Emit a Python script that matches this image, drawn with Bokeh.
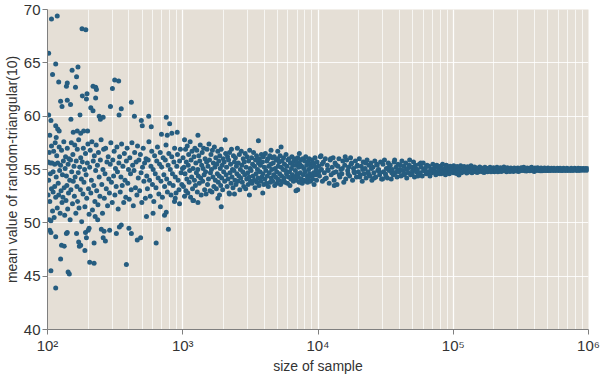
from bokeh.plotting import figure
from bokeh.models import Range1d, FixedTicker, CustomJSTickFormatter, ColumnDataSource
from bokeh.embed import file_html
from bokeh.resources import INLINE

# (sample size, mean value), decade by decade
decade_2_outliers = [
    (107, 69.1), (118, 69.4), (180, 68.2), (192, 68.1), (102, 65.9), (115, 64.9), (109, 63.9), (121, 63.2),
    (152, 64.3), (168, 64.6), (164, 63.7), (140, 63.1), (138, 62.8), (161, 62.7), (217, 62.8), (227, 62.7),
    (230, 62.5), (196, 62.1), (181, 61.9), (194, 61.6), (227, 61.7), (314, 63.4), (336, 63.3), (302, 62.6),
    (417, 61.3), (125, 61.4), (128, 60.9), (140, 61.5), (148, 61.1), (292, 60.9), (351, 60.7), (338, 60.1),
    (209, 60.8), (217, 60.5), (241, 60.0), (258, 59.9), (246, 59.7), (149, 59.7), (174, 60.1), (102, 60.1),
    (106, 59.6), (115, 59.1), (119, 58.8), (104, 58.2), (116, 58.0), (122, 58.6), (155, 58.5), (166, 58.6),
    (185, 58.6), (198, 58.6), (176, 58.4), (439, 60.0), (494, 59.6), (502, 59.1), (560, 60.0), (755, 59.9),
    (800, 59.3), (585, 59.0), (910, 58.5), (830, 58.4), (696, 58.3), (768, 58.2),
    (104, 49.3), (106, 49.1), (115, 48.7), (127, 47.9), (133, 47.8), (125, 46.6), (106, 45.5), (142, 45.4),
    (145, 45.2), (115, 43.9), (138, 49.0), (140, 49.1), (164, 49.0), (170, 48.2), (172, 47.8), (176, 47.9),
    (189, 47.4), (191, 49.1), (200, 49.3), (194, 48.6), (205, 46.3), (221, 46.2), (221, 48.1), (203, 49.5),
    (250, 49.4), (262, 49.2), (258, 48.6), (268, 48.3), (383, 46.1), (400, 49.5), (417, 49.0), (461, 48.4),
    (488, 48.6), (539, 50.6), (636, 48.1), (783, 49.4), (323, 49.0), (340, 49.6), (351, 49.8), (288, 49.3),
    (235, 50.3), (225, 50.6), (733, 50.7), (755, 51.0), (683, 51.5), (603, 50.9), (947, 51.8), (869, 52.0),
    (880, 52.3),
]

decade_2_body = [
    (101, 55.7), (101, 52.6), (102, 54.0), (103, 50.3), (103, 56.6), (104, 52.0), (105, 54.6), (105, 55.6),
    (106, 50.2), (107, 57.2), (107, 53.2), (108, 55.6), (109, 51.1), (110, 54.8), (110, 52.9), (111, 56.7),
    (112, 50.5), (113, 55.5), (113, 53.4), (114, 57.5), (115, 52.4), (116, 54.3), (117, 56.3), (118, 51.4),
    (119, 55.6), (120, 53.7), (121, 52.6), (122, 57.1), (123, 54.9), (124, 50.9), (125, 55.4), (126, 53.0),
    (127, 56.8), (128, 51.9), (129, 54.5), (130, 52.4), (131, 55.8), (132, 57.6), (133, 53.3), (134, 50.7),
    (135, 55.1), (136, 56.2), (137, 52.1), (138, 54.4), (139, 53.5), (140, 57.0), (141, 51.3), (142, 55.5),
    (143, 52.8), (144, 56.0), (146, 54.0), (147, 50.3), (148, 55.9), (149, 53.1), (150, 57.5), (151, 54.8),
    (153, 51.8), (154, 56.4), (155, 53.9), (157, 55.3), (158, 52.5), (159, 57.3), (160, 54.3), (162, 50.9),
    (163, 55.8), (165, 53.4), (166, 56.9), (167, 52.0), (169, 54.7), (170, 57.8), (171, 51.4), (173, 55.2),
    (175, 53.1), (176, 56.1), (178, 54.1), (179, 50.1), (181, 55.7), (183, 52.7), (184, 57.0), (186, 53.8),
    (188, 55.0), (189, 51.5), (191, 56.5), (193, 54.5), (195, 52.3), (197, 55.6), (199, 57.4), (201, 53.2),
    (203, 50.8), (205, 55.2), (207, 56.8), (209, 52.8), (211, 54.0), (213, 57.6), (215, 51.2), (218, 55.8),
    (220, 53.5), (222, 56.3), (224, 52.0), (227, 54.9), (229, 57.3), (231, 53.0), (234, 55.4), (236, 51.7),
    (238, 56.6), (241, 54.3), (244, 52.5), (246, 55.9), (249, 57.8), (252, 53.6), (255, 50.9), (257, 55.0),
    (260, 56.9), (263, 52.3), (266, 54.6), (269, 57.0), (272, 53.2), (275, 55.7), (278, 51.6), (281, 56.2),
    (284, 54.1), (287, 52.8), (291, 55.5), (294, 57.5), (297, 53.8), (301, 51.9), (304, 55.9), (308, 54.4),
    (311, 56.7), (315, 52.6), (318, 55.1), (322, 53.4), (326, 57.1), (329, 54.8), (333, 51.3), (337, 55.6),
    (341, 56.2), (345, 52.9), (349, 54.3), (353, 57.4), (357, 53.5), (361, 55.3), (366, 51.9), (370, 56.5),
    (374, 54.0), (379, 52.4), (383, 55.8), (388, 57.0), (392, 53.7), (397, 55.0), (402, 52.2), (406, 56.1),
    (411, 54.6), (416, 53.1), (421, 57.5), (426, 55.4), (431, 51.6), (436, 54.9), (441, 56.6), (447, 53.3),
    (452, 55.7), (458, 52.6), (463, 57.2), (469, 54.2), (474, 55.9), (480, 53.0), (486, 56.4), (492, 54.7),
    (498, 51.9), (504, 55.2), (510, 57.0), (516, 53.9), (522, 55.6), (529, 52.3), (535, 56.0), (542, 54.4),
    (548, 53.2), (555, 55.9), (562, 57.6), (568, 54.0), (575, 52.5), (582, 55.3), (590, 56.7), (597, 53.6),
    (604, 55.0), (611, 52.0), (619, 56.3), (626, 54.6), (634, 53.3), (642, 55.8), (650, 57.1), (658, 54.2),
    (666, 52.7), (674, 55.5), (682, 56.6), (690, 53.9), (699, 55.2), (707, 52.4), (716, 56.1), (725, 54.5),
    (734, 53.4), (743, 55.9), (752, 57.3), (761, 54.1), (770, 52.9), (780, 55.4), (789, 56.5), (799, 53.7),
    (809, 55.0), (819, 52.6), (829, 56.2), (839, 54.6), (849, 53.5), (860, 55.7), (870, 57.0), (881, 54.3),
    (892, 52.8), (903, 55.3), (914, 56.4), (925, 54.0), (937, 53.1), (948, 55.8), (960, 56.9), (972, 54.7),
    (984, 53.6), (996, 55.1),
]

decade_3 = [
    (1005, 56.1), (1012, 53.4), (1020, 55.2), (1031, 52.5), (1031, 57.8), (1040, 54.6), (1048, 56.9), (1055, 53.0),
    (1063, 55.7), (1072, 54.1), (1080, 57.2), (1089, 52.8), (1098, 55.4), (1106, 56.4), (1115, 53.8), (1124, 54.9),
    (1134, 57.6), (1143, 52.4), (1152, 55.9), (1162, 54.3), (1171, 56.7), (1181, 53.2), (1189, 52.1), (1191, 55.1),
    (1201, 52.1), (1210, 56.2), (1220, 54.0), (1230, 57.0), (1240, 53.5), (1250, 55.6), (1261, 54.7), (1271, 56.8),
    (1282, 52.9), (1292, 55.0), (1295, 51.9), (1295, 58.2), (1303, 54.4), (1314, 56.3), (1325, 53.7), (1336, 55.8),
    (1347, 57.3), (1358, 54.2), (1369, 52.6), (1381, 55.4), (1392, 56.6), (1404, 53.9), (1415, 55.1), (1427, 57.0),
    (1439, 54.5), (1451, 53.1), (1463, 56.0), (1475, 54.8), (1487, 52.7), (1500, 55.7), (1512, 56.9), (1525, 53.6),
    (1537, 55.3), (1550, 54.1), (1563, 57.4), (1576, 55.9), (1589, 53.0), (1603, 54.7), (1616, 56.4), (1630, 55.0),
    (1643, 52.9), (1657, 56.8), (1671, 54.3), (1685, 55.6), (1699, 53.4), (1713, 57.1), (1727, 55.2), (1742, 54.0),
    (1756, 56.1), (1771, 53.2), (1786, 55.5), (1801, 54.6), (1816, 56.7), (1818, 52.3), (1831, 53.8), (1846, 55.8),
    (1862, 54.4), (1870, 52.6), (1877, 56.3), (1893, 55.1), (1909, 53.5), (1925, 51.5), (1925, 56.9), (1941, 54.2),
    (1957, 55.4), (1973, 53.1), (1990, 56.0), (2006, 54.8), (2023, 55.7), (2040, 53.9), (2060, 57.8), (2074, 56.5),
    (2092, 54.5), (2109, 55.2), (2127, 53.4), (2144, 56.2), (2162, 54.1), (2180, 55.9), (2199, 52.8), (2215, 52.7),
    (2217, 56.6), (2236, 54.7), (2255, 55.5), (2274, 53.7), (2293, 56.9), (2312, 54.3), (2331, 55.0), (2351, 53.3),
    (2371, 56.3), (2390, 54.9), (2412, 52.7), (2411, 55.7), (2431, 54.0), (2451, 56.1), (2472, 53.6), (2492, 55.3),
    (2513, 54.6), (2534, 57.0), (2556, 53.9), (2577, 55.6), (2599, 54.4), (2620, 56.4), (2642, 53.1), (2665, 55.0),
    (2687, 54.2), (2709, 56.7), (2732, 55.4), (2755, 53.8), (2778, 54.8), (2801, 56.0), (2825, 53.4), (2849, 55.7),
    (2872, 54.5), (2897, 56.5), (2921, 53.2), (2945, 55.2), (2970, 54.1), (2995, 56.2), (3020, 54.7), (3045, 53.6),
    (3071, 55.8), (3097, 54.3), (3113, 52.6), (3123, 56.8), (3149, 55.1), (3175, 53.9), (3202, 54.9), (3229, 56.1),
    (3256, 53.7), (3283, 55.5), (3311, 54.4), (3339, 56.6), (3367, 54.0), (3395, 55.3), (3423, 53.3), (3452, 55.9),
    (3481, 54.6), (3510, 56.3), (3540, 53.8), (3569, 55.0), (3600, 54.2), (3625, 57.7), (3630, 55.6), (3660, 53.5),
    (3691, 56.0), (3722, 54.8), (3753, 55.4), (3785, 53.9), (3816, 56.4), (3848, 54.3), (3881, 55.7), (3904, 52.8),
    (3913, 54.6), (3946, 56.2), (3979, 53.6), (4013, 55.2), (4047, 54.1), (4081, 56.5), (4115, 54.9), (4150, 53.7),
    (4184, 55.8), (4220, 54.4), (4255, 56.0), (4291, 53.4), (4327, 55.3), (4363, 54.7), (4400, 56.3), (4437, 53.8),
    (4474, 55.5), (4494, 56.8), (4512, 54.2), (4550, 55.0), (4588, 56.1), (4627, 53.9), (4665, 55.6), (4705, 54.5),
    (4744, 56.2), (4784, 53.5), (4825, 55.1), (4865, 54.3), (4906, 55.9), (4947, 54.8), (4989, 53.7), (5031, 56.0),
    (5040, 54.1), (5040, 56.7), (5073, 55.3), (5116, 54.0), (5159, 55.7), (5202, 54.6), (5246, 56.3), (5290, 53.6),
    (5333, 57.1), (5335, 55.2), (5380, 54.4), (5425, 55.8), (5471, 53.9), (5517, 55.0), (5563, 56.1), (5610, 54.2),
    (5657, 55.5), (5705, 53.8), (5753, 54.9), (5801, 56.4), (5850, 54.6), (5899, 55.3), (5949, 53.7), (5999, 55.9),
    (6049, 54.3), (6100, 56.0), (6152, 54.8), (6203, 53.5), (6255, 55.6), (6308, 54.1), (6361, 55.1), (6415, 56.2),
    (6469, 54.5), (6523, 55.4), (6578, 53.9), (6633, 55.8), (6689, 54.3), (6745, 56.0), (6802, 54.9), (6870, 53.0),
    (6859, 55.4), (6917, 54.0), (6975, 55.7), (7034, 54.6), (7078, 53.1), (7093, 56.1), (7153, 54.3), (7213, 55.2),
    (7280, 56.5), (7274, 53.8), (7335, 55.5), (7397, 54.7), (7459, 55.9), (7522, 54.1), (7585, 55.3), (7649, 53.7),
    (7713, 56.0), (7778, 54.5), (7843, 55.1), (7910, 54.0), (7976, 55.8), (8043, 54.8), (8111, 56.2), (8179, 53.9),
    (8248, 55.4), (8318, 54.4), (8372, 53.8), (8388, 55.7), (8458, 54.2), (8530, 55.0), (8601, 56.0), (8674, 54.6),
    (8747, 55.5), (8820, 53.9), (8895, 55.2), (8970, 54.4), (9045, 55.9), (9121, 54.1), (9198, 55.6), (9276, 54.7),
    (9354, 53.6), (9432, 55.3), (9512, 56.1), (9592, 54.5), (9673, 55.0), (9754, 54.0), (9836, 55.7), (9919, 54.8),
]

decade_4 = [
    (10080, 55.3), (10170, 54.8), (10250, 54.4), (10420, 56.2), (10520, 56.3), (10600, 55.0), (10690, 55.5),
    (10780, 53.9), (10960, 55.7), (11140, 54.7), (11240, 54.1), (11330, 56.0), (11520, 54.2), (11710, 55.4),
    (11800, 55.0), (11900, 54.9), (12100, 53.7), (12300, 55.9), (12400, 56.0), (12510, 54.5), (12720, 55.2),
    (12930, 56.1), (13030, 54.7), (13150, 54.0), (13190, 53.5), (13370, 55.6), (13590, 54.8), (13690, 55.4),
    (13820, 53.6), (14050, 55.3), (14280, 56.0), (14380, 54.5), (14520, 54.3), (14760, 55.0), (15010, 54.6),
    (15130, 55.1), (15260, 55.8), (15510, 53.8), (15770, 55.4), (15890, 56.2), (16030, 54.1), (16300, 55.9),
    (16570, 54.9), (16680, 54.6), (16850, 55.2), (17130, 54.4), (17410, 56.1), (17560, 55.5), (17700, 55.6),
    (18000, 54.0), (18300, 55.1), (18450, 54.8), (18600, 54.7), (18910, 55.8), (19230, 54.3), (19390, 55.3),
    (19550, 55.4), (19870, 54.8), (20200, 56.0), (20370, 54.3), (20540, 54.5), (20880, 55.3), (21230, 53.9),
    (21400, 55.0), (21580, 55.7), (21940, 54.6), (22300, 55.1), (22480, 55.6), (22670, 54.2), (23050, 55.9),
    (23430, 54.8), (23620, 54.6), (23820, 55.4), (24220, 54.4), (24620, 55.6), (24820, 55.1), (25030, 54.0),
    (25450, 55.2), (25870, 54.7), (26080, 54.2), (26300, 55.8), (26740, 54.3), (27180, 55.5), (27400, 55.4),
    (27630, 54.9), (28090, 55.0), (28560, 54.5), (28790, 54.7), (29030, 55.7), (29510, 54.1), (30000, 54.1),
    (30250, 55.5), (30500, 54.8), (31010, 55.9), (31520, 54.6), (31780, 54.4), (32050, 55.1), (32580, 54.2),
    (33120, 55.6), (33390, 55.2), (33670, 54.9), (34230, 55.4), (34800, 54.1), (35090, 54.7), (35380, 55.0),
    (35970, 54.5), (36560, 55.7), (36860, 55.9), (37170, 54.7), (37790, 55.2), (38420, 54.3), (38730, 54.9),
    (39050, 55.5), (39700, 54.8), (40360, 55.0), (40700, 55.4), (41030, 54.4), (41710, 55.8), (42410, 54.9),
    (42760, 54.5), (43110, 55.3), (43830, 54.6), (44560, 55.6), (44930, 55.0), (45300, 54.2), (46050, 55.1),
    (46820, 54.7), (47210, 55.4), (47600, 55.9), (48390, 54.5), (49190, 55.2), (49600, 54.6), (50010, 54.9),
    (50840, 55.7), (51690, 54.3), (52120, 55.1), (52550, 55.4), (53420, 54.8), (54310, 55.0), (54760, 54.4),
    (55210, 54.5), (56130, 55.5), (57060, 54.7), (57530, 55.6), (58000, 55.2), (58970, 54.4), (59950, 55.6),
    (60450, 54.9), (60940, 54.9), (61960, 55.1), (62990, 54.6), (63510, 55.3), (64030, 55.4), (65100, 54.8),
    (66180, 55.3), (66730, 54.6), (67280, 54.4), (68390, 55.0), (69530, 54.7), (70110, 55.0), (70680, 55.5),
    (71860, 54.9), (73050, 55.2), (73660, 54.8), (74260, 54.5), (75500, 55.4), (76750, 54.8), (77390, 55.3),
    (78030, 55.0), (79320, 54.6), (80640, 55.3), (81310, 54.6), (81980, 54.9), (83340, 55.5), (84730, 54.7),
    (85430, 55.0), (86130, 55.1), (87560, 54.5), (89020, 55.4), (89760, 55.3), (90500, 54.8), (92000, 55.0),
    (93530, 54.6), (94310, 54.8), (95080, 55.3), (96660, 54.9), (98270, 55.2), (99090, 55.1), (99900, 54.7),
]

decade_5 = [
    (100800, 55.34), (102300, 54.78), (103800, 55.16), (105300, 54.62), (106900, 55.28), (108500, 54.88),
    (110100, 54.48), (111700, 55.06), (113400, 55.36), (115100, 54.7), (116800, 55.18), (118500, 54.78),
    (120300, 55.28), (122100, 54.86), (123900, 55.04), (125700, 54.68), (127600, 55.26), (129500, 54.76),
    (131400, 55.16), (133400, 54.88), (135300, 55.34), (137400, 54.7), (139400, 55.04), (141500, 54.78),
    (143600, 55.24), (145700, 54.88), (147900, 55.14), (150100, 54.72), (152300, 55.02), (154600, 54.8),
    (156900, 55.24), (159200, 54.9), (161600, 55.14), (164000, 54.78), (166400, 55.06), (168900, 54.72),
    (171400, 55.22), (173900, 54.88), (176500, 55.12), (179100, 54.8), (181800, 55.02), (184500, 54.9),
    (187200, 55.22), (190000, 54.8), (192800, 55.04), (195700, 54.86), (198600, 55.16), (201500, 54.8),
    (204500, 55.04), (207600, 54.9), (210600, 55.22), (213800, 54.8), (216900, 55.06), (220100, 54.86),
    (223400, 55.16), (226700, 54.82), (230100, 55.04), (233500, 54.88), (237000, 55.24), (240500, 54.9),
    (244000, 55.06), (247700, 54.8), (251300, 55.16), (255100, 54.9), (258800, 55.04), (262700, 54.82),
    (266600, 55.14), (270500, 54.9), (274500, 55.04), (278600, 54.82), (282700, 55.14), (286900, 54.9),
    (291200, 55.06), (295500, 54.86), (299900, 55.14), (304300, 54.82), (308800, 55.0), (313400, 54.9),
    (318100, 55.16), (322800, 54.9), (327500, 55.04), (332400, 55.22), (337300, 54.88), (342300, 55.04),
    (347400, 54.86), (352500, 55.14), (357800, 54.9), (363100, 55.04), (368400, 54.88), (373900, 55.14),
    (379400, 55.2), (385100, 54.9), (390800, 55.04), (396600, 54.82), (402400, 55.14), (408400, 54.9),
    (414400, 55.04), (420600, 55.16), (426800, 54.9), (433100, 55.04), (439500, 54.88), (446000, 55.14),
    (452700, 54.88), (459300, 55.04), (466100, 54.9), (473100, 55.14), (480000, 54.9), (487100, 55.04),
    (494300, 54.9), (501700, 55.14), (509100, 54.9), (516600, 55.04), (524300, 54.9), (532100, 55.12),
    (539900, 55.0), (547900, 54.9), (556000, 55.12), (564300, 55.0), (572600, 54.9), (581100, 55.04),
    (589700, 55.12), (598400, 54.9), (607300, 55.0), (616300, 55.12), (625400, 54.9), (634600, 55.04),
    (644000, 54.9), (653600, 55.12), (663200, 55.0), (673000, 54.9), (683000, 55.04), (693100, 55.12),
    (703400, 54.9), (713800, 55.04), (724300, 55.0), (735100, 54.9), (745900, 55.12), (757000, 55.0),
    (768200, 54.9), (779500, 55.04), (791100, 55.12), (802800, 55.0), (814700, 54.9), (826700, 55.04),
    (839000, 55.12), (851400, 54.9), (864000, 55.04), (876800, 55.1), (889800, 54.92), (902900, 55.04),
    (916300, 55.1), (929800, 54.92), (943600, 55.04), (957600, 55.1), (971700, 54.92), (986100, 55.04),
    (999000, 55.06),
]

x_ticks = [100, 1000, 10000, 100000, 1000000]
x_minor_ticks = [200, 300, 400, 500, 600, 700, 800, 900,
                 2000, 3000, 4000, 5000, 6000, 7000, 8000, 9000,
                 20000, 30000, 40000, 50000, 60000, 70000, 80000, 90000,
                 200000, 300000, 400000, 500000, 600000, 700000, 800000, 900000]
y_ticks = [40, 45, 50, 55, 60, 65, 70]

all_points = decade_2_outliers + decade_2_body + decade_3 + decade_4 + decade_5
source = ColumnDataSource(data=dict(
    size=[p[0] for p in all_points],
    mean=[p[1] for p in all_points],
))

FONT = "Liberation Sans"
TEXT = "#333333"

p = figure(width=600, height=376, x_axis_type="log",
           x_range=Range1d(100, 1000000), y_range=Range1d(40, 70),
           output_backend="svg", toolbar_location=None,
           min_border_top=9, min_border_right=12, min_border_bottom=0, min_border_left=0)

p.background_fill_color = "#e5dfd6"
p.border_fill_color = "white"
p.outline_line_color = None

p.scatter("size", "mean", source=source, size=5, fill_color="#265d80",
          line_color=None)

p.xaxis.ticker = FixedTicker(ticks=x_ticks, minor_ticks=x_minor_ticks)
p.xaxis.formatter = CustomJSTickFormatter(code="""
    const sup = {2: '\u00b2', 3: '\u00b3', 4: '\u2074', 5: '\u2075', 6: '\u2076'};
    const e = Math.round(Math.log10(tick));
    return '10' + sup[e];
""")
p.yaxis.ticker = FixedTicker(ticks=y_ticks)

p.xaxis.axis_label = "size of sample"
p.yaxis.axis_label = "mean value of random-triangular(10)"

for ax in (p.xaxis, p.yaxis):
    ax.axis_line_color = "#7f7f7f"
    ax.major_tick_line_color = "#7f7f7f"
    ax.major_tick_out = 5
    ax.major_tick_in = 0
    ax.minor_tick_line_color = None
    ax.major_label_text_font = FONT
    ax.major_label_text_font_size = "15px"
    ax.major_label_text_color = TEXT
    ax.axis_label_text_font = FONT
    ax.axis_label_text_font_size = "14px"
    ax.axis_label_text_font_style = "normal"
    ax.axis_label_text_color = TEXT
    ax.major_label_standoff = 2
    ax.axis_label_standoff = 1

p.xgrid.grid_line_color = "white"
p.xgrid.grid_line_alpha = 0.95
p.xgrid.grid_line_width = 1.3
p.xgrid.minor_grid_line_color = "white"
p.xgrid.minor_grid_line_alpha = 0.7
p.xgrid.minor_grid_line_width = 1
p.ygrid.grid_line_color = "white"
p.ygrid.grid_line_alpha = 0.85
p.ygrid.grid_line_width = 1

open("out.html", "w").write(file_html(p, INLINE))
